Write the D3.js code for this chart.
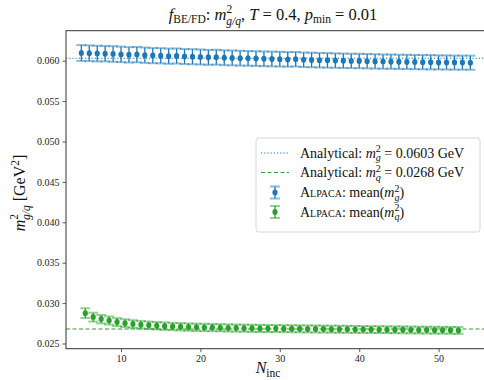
<!DOCTYPE html>
<html>
<head>
<meta charset="utf-8">
<script src="https://cdn.jsdelivr.net/npm/d3@7"></script>
<style>
  body { margin: 0; background: #fff; }
  svg { display: block; font-family: "Liberation Serif", "DejaVu Serif", serif; }
</style>
</head>
<body>
<svg id="chart" width="484" height="380"></svg>
<script>
'use strict';

// ---- data ----
const gluonN = d3.range(5, 55);            // N_inc for the gluon points
const gluonMean = [
  0.06095, 0.06092, 0.06088, 0.06087, 0.06083, 0.06078, 0.06072, 0.06075, 0.06068, 0.06063,
  0.06061, 0.06056, 0.06058, 0.06051, 0.06049, 0.06046, 0.06041, 0.06043, 0.06036, 0.06034,
  0.06031, 0.06029, 0.06026, 0.06023, 0.06021, 0.06019, 0.06016, 0.06018, 0.06011, 0.06009,
  0.06006, 0.06004, 0.06001, 0.05999, 0.05997, 0.05996, 0.05994, 0.05991, 0.05989, 0.05988,
  0.05986, 0.05985, 0.05983, 0.05981, 0.05981, 0.05979, 0.05978, 0.05976, 0.05976, 0.05975
];
const gluonErr = [
  0.00098, 0.00097, 0.00097, 0.00096, 0.00096, 0.00096, 0.00095, 0.00095, 0.00095, 0.00094,
  0.00094, 0.00094, 0.00093, 0.00093, 0.00093, 0.00093, 0.00092, 0.00092, 0.00092, 0.00092,
  0.00092, 0.00091, 0.00091, 0.00091, 0.00091, 0.00091, 0.00090, 0.00090, 0.00090, 0.00090,
  0.00090, 0.00090, 0.00089, 0.00089, 0.00089, 0.00089, 0.00089, 0.00089, 0.00088, 0.00088,
  0.00088, 0.00088, 0.00088, 0.00088, 0.00088, 0.00087, 0.00087, 0.00087, 0.00087, 0.00087
];

const quarkN = d3.range(5.5, 53, 1);       // N_inc for the quark points
const quarkMean = [
  0.02876, 0.02827, 0.02802, 0.02785, 0.02765, 0.02752, 0.02741, 0.02733, 0.02726, 0.02720,
  0.02715, 0.02711, 0.02707, 0.02704, 0.02701, 0.02699, 0.02697, 0.02695, 0.02693, 0.02691,
  0.02690, 0.02688, 0.02687, 0.02686, 0.02685, 0.02684, 0.02683, 0.02682, 0.02681, 0.02680,
  0.02679, 0.02678, 0.02677, 0.02676, 0.02675, 0.02674, 0.02673, 0.02672, 0.02671, 0.02670,
  0.02669, 0.02668, 0.02667, 0.02666, 0.02665, 0.02664, 0.02663, 0.02662
];
const quarkErr = [
  0.00060, 0.00055, 0.00052, 0.00050, 0.00049, 0.00048, 0.00047, 0.00047, 0.00046, 0.00046,
  0.00046, 0.00045, 0.00045, 0.00045, 0.00045, 0.00045, 0.00044, 0.00044, 0.00044, 0.00044,
  0.00044, 0.00044, 0.00044, 0.00044, 0.00043, 0.00043, 0.00043, 0.00043, 0.00043, 0.00043,
  0.00043, 0.00043, 0.00043, 0.00043, 0.00043, 0.00042, 0.00042, 0.00042, 0.00042, 0.00042,
  0.00042, 0.00042, 0.00042, 0.00042, 0.00042, 0.00042, 0.00042, 0.00042
];

const gluonAnalytical = 0.0603;
const quarkAnalytical = 0.0268;

const xTicks = [10, 20, 30, 40, 50];
const yTicks = [0.025, 0.030, 0.035, 0.040, 0.045, 0.050, 0.055, 0.060];

// ---- layout ----
const svg = d3.select('#chart');
const plot = { left: 66, right: 486, top: 30.7, bottom: 348.7 };

const x = d3.scaleLinear().domain([3.07, 55.97]).range([plot.left, plot.right]);
const y = d3.scaleLinear().domain([0.02436, 0.06371]).range([plot.bottom, plot.top]);

const blue = '#1f77b4', blueLight = 'rgba(31,119,180,0.5)';
const green = '#2ca02c', greenLight = 'rgba(44,160,44,0.5)';

// rich text helper: segments of {t, i (italic), dy, dx, size, sc (small caps)}
function richText(sel, segs) {
  segs.forEach(seg => {
    const ts = sel.append('tspan').text(seg.t);
    if (seg.i) ts.attr('font-style', 'italic');
    if (seg.sc) ts.attr('font-variant', 'small-caps');
    if (seg.dy) ts.attr('dy', seg.dy);
    if (seg.dx) ts.attr('dx', seg.dx);
    if (seg.size) ts.attr('font-size', seg.size);
  });
}

// analytical lines
svg.append('line')
  .attr('x1', plot.left).attr('x2', plot.right)
  .attr('y1', y(gluonAnalytical)).attr('y2', y(gluonAnalytical))
  .attr('stroke', blue).attr('stroke-width', 1.2)
  .attr('stroke-dasharray', '1.2,2');
svg.append('line')
  .attr('x1', plot.left).attr('x2', plot.right)
  .attr('y1', y(quarkAnalytical)).attr('y2', y(quarkAnalytical))
  .attr('stroke', green).attr('stroke-width', 1.2)
  .attr('stroke-dasharray', '4,2.5');

// error bar series
function errorSeries(ns, means, errs, dark, light) {
  const data = ns.map((n, i) => ({ n: n, m: means[i], e: errs[i] }));
  const g = svg.append('g');
  // caps
  g.selectAll('line.cap-top').data(data).enter().append('line')
    .attr('x1', d => x(d.n) - 5).attr('x2', d => x(d.n) + 5)
    .attr('y1', d => y(d.m + d.e)).attr('y2', d => y(d.m + d.e))
    .attr('stroke', light).attr('stroke-width', 2);
  g.selectAll('line.cap-bot').data(data).enter().append('line')
    .attr('x1', d => x(d.n) - 5).attr('x2', d => x(d.n) + 5)
    .attr('y1', d => y(d.m - d.e)).attr('y2', d => y(d.m - d.e))
    .attr('stroke', light).attr('stroke-width', 2);
  // stems
  g.selectAll('line.stem').data(data).enter().append('line')
    .attr('x1', d => x(d.n)).attr('x2', d => x(d.n))
    .attr('y1', d => y(d.m + d.e)).attr('y2', d => y(d.m - d.e))
    .attr('stroke', dark).attr('stroke-width', 1.3);
  g.selectAll('ellipse').data(data).enter().append('ellipse')
    .attr('cx', d => x(d.n)).attr('cy', d => y(d.m))
    .attr('rx', 2.6).attr('ry', 3).attr('fill', dark);
}
errorSeries(gluonN, gluonMean, gluonErr, blue, blueLight);
errorSeries(quarkN, quarkMean, quarkErr, green, greenLight);

// axes
const xAxis = svg.append('g')
  .attr('transform', `translate(0,${plot.bottom})`)
  .call(d3.axisBottom(x).tickValues(xTicks).tickSize(3.5).tickPadding(3).tickFormat(d3.format('d')));
const yAxis = svg.append('g')
  .attr('transform', `translate(${plot.left},0)`)
  .call(d3.axisLeft(y).tickValues(yTicks).tickSize(3.5).tickPadding(3).tickFormat(d3.format('.3f')));
[xAxis, yAxis].forEach(a => {
  a.selectAll('text').attr('font-family', '"Liberation Serif", serif').attr('font-size', 10).attr('fill', '#222');
  a.selectAll('line').attr('stroke', '#333').attr('stroke-width', 0.8);
  a.select('.domain').remove();
});

// frame
svg.append('rect')
  .attr('x', plot.left).attr('y', plot.top)
  .attr('width', plot.right - plot.left).attr('height', plot.bottom - plot.top)
  .attr('fill', 'none').attr('stroke', '#333').attr('stroke-width', 1);

// title
const title = svg.append('text')
  .attr('x', 273).attr('y', 20)
  .attr('text-anchor', 'middle').attr('font-size', 16.5).attr('fill', '#111');
richText(title, [
  { t: 'f', i: true },
  { t: 'BE/FD', dy: 3, size: 11.5 },
  { t: ': ', dy: -3 },
  { t: 'm', i: true },
  { t: '2', dy: -7, size: 11.5 },
  { t: 'g/q', i: true, dy: 11.5, dx: -6, size: 11.5 },
  { t: ', ', dy: -4.5 },
  { t: 'T', i: true },
  { t: ' = 0.4, ' },
  { t: 'p', i: true },
  { t: 'min', dy: 3, size: 11.5 },
  { t: ' = 0.01', dy: -3 }
]);

// x label
const xl = svg.append('text')
  .attr('x', 268).attr('y', 373)
  .attr('text-anchor', 'middle').attr('font-size', 16).attr('fill', '#111');
richText(xl, [
  { t: 'N', i: true },
  { t: 'inc', dy: 3.5, size: 11.5 }
]);

// y label
const yl = svg.append('text')
  .attr('transform', 'translate(25,193) rotate(-90)')
  .attr('text-anchor', 'middle').attr('font-size', 16).attr('fill', '#111');
richText(yl, [
  { t: 'm', i: true },
  { t: '2', dy: -7, size: 11.5 },
  { t: 'g/q', i: true, dy: 11.5, dx: -6, size: 11.5 },
  { t: ' [GeV', dy: -4.5 },
  { t: '2', dy: -6, size: 11.5 },
  { t: ']', dy: 6 }
]);

// legend
const lg = svg.append('g').attr('transform', 'translate(256,138)');
lg.append('rect')
  .attr('width', 224).attr('height', 94).attr('rx', 3)
  .attr('fill', 'rgba(255,255,255,0.85)').attr('stroke', '#ccc').attr('stroke-width', 0.8);

const rows = [15, 34.5, 54.5, 74];
lg.append('line').attr('x1', 5).attr('x2', 33).attr('y1', rows[0]).attr('y2', rows[0])
  .attr('stroke', blue).attr('stroke-width', 1.2).attr('stroke-dasharray', '1.2,2');
lg.append('line').attr('x1', 5).attr('x2', 33).attr('y1', rows[1]).attr('y2', rows[1])
  .attr('stroke', green).attr('stroke-width', 1.2).attr('stroke-dasharray', '4,2.5');
[[rows[2], blue, blueLight], [rows[3], green, greenLight]].forEach(([ry, dark, light]) => {
  lg.append('line').attr('x1', 14).attr('x2', 24).attr('y1', ry - 6).attr('y2', ry - 6)
    .attr('stroke', light).attr('stroke-width', 2);
  lg.append('line').attr('x1', 14).attr('x2', 24).attr('y1', ry + 6).attr('y2', ry + 6)
    .attr('stroke', light).attr('stroke-width', 2);
  lg.append('line').attr('x1', 19).attr('x2', 19).attr('y1', ry - 6).attr('y2', ry + 6)
    .attr('stroke', dark).attr('stroke-width', 1.3);
  lg.append('ellipse').attr('cx', 19).attr('cy', ry).attr('rx', 2.6).attr('ry', 3).attr('fill', dark);
});

function legText(ry, segs) {
  const t = lg.append('text').attr('x', 44).attr('y', ry + 4.5)
    .attr('font-size', 14).attr('fill', '#111');
  richText(t, segs);
}
legText(rows[0], [
  { t: 'Analytical: ' }, { t: 'm', i: true },
  { t: '2', dy: -5.5, size: 10 }, { t: 'g', i: true, dy: 9, dx: -5, size: 10 },
  { t: ' = 0.0603 GeV', dy: -3.5 }
]);
legText(rows[1], [
  { t: 'Analytical: ' }, { t: 'm', i: true },
  { t: '2', dy: -5.5, size: 10 }, { t: 'q', i: true, dy: 9, dx: -5, size: 10 },
  { t: ' = 0.0268 GeV', dy: -3.5 }
]);
[[rows[2], 'g'], [rows[3], 'q']].forEach(([ry, sub]) => {
  legText(ry, [
    { t: 'Alpaca', sc: true },
    { t: ': mean(' }, { t: 'm', i: true },
    { t: '2', dy: -5.5, size: 10 }, { t: sub, i: true, dy: 9, dx: -5, size: 10 },
    { t: ')', dy: -3.5 }
  ]);
});
</script>
</body>
</html>
